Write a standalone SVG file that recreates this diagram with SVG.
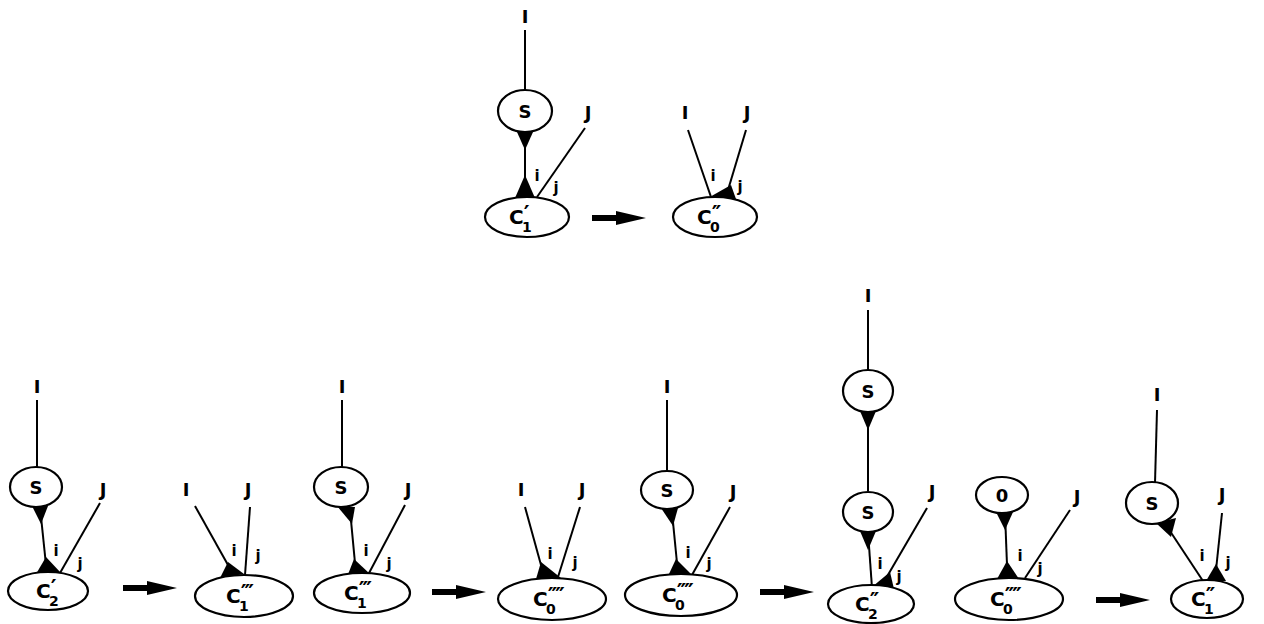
<svg xmlns="http://www.w3.org/2000/svg" width="1264" height="624" viewBox="0 0 1264 624">
<style>
.e{fill:#fff;stroke:#000;stroke-width:2.2}
.l{stroke:#000;stroke-width:2;fill:none}
.t{fill:#000;stroke:none}
.lab{font-family:"DejaVu Sans","Liberation Sans",sans-serif;font-weight:bold;fill:#000}
.big{font-size:18px;text-anchor:middle}
.s{font-size:18px;text-anchor:middle}
.c{font-size:20px}
.p{font-size:22px;letter-spacing:-2px}
.sub{font-size:14px;letter-spacing:0}
.sm{font-size:15px;text-anchor:middle}
</style>
<defs>
<path id="arr" d="M0,-3 H24 V-7 L54,0 L24,7 V3 H0 Z" fill="#000"/>
</defs>
<rect width="1264" height="624" fill="#fff"/>

<g id="connectors">
<line class="l" x1="525" y1="30" x2="525" y2="90"/>
<line class="l" x1="525" y1="132" x2="525" y2="197"/>
<line class="l" x1="585" y1="128" x2="537" y2="197"/>
<polygon class="t" points="517,132 533,132 525,150"/>
<polygon class="t" points="515,198 535,198 525,175"/>
<line class="l" x1="688" y1="130" x2="711" y2="197"/>
<line class="l" x1="746" y1="130" x2="728" y2="190"/>
<polygon class="t" points="708,198 731,185 736,199"/>
<line class="l" x1="37" y1="400" x2="37" y2="467"/>
<line class="l" x1="40" y1="507" x2="46" y2="565"/>
<line class="l" x1="100" y1="503" x2="60" y2="573"/>
<polygon class="t" points="32,506 48,506 41,524"/>
<polygon class="t" points="36,574 46,557 61,573"/>
<line class="l" x1="195" y1="506" x2="228" y2="565"/>
<line class="l" x1="250" y1="507" x2="245" y2="575"/>
<polygon class="t" points="220,578 228,562 244,574"/>
<line class="l" x1="342" y1="400" x2="342" y2="468"/>
<line class="l" x1="350" y1="510" x2="355" y2="563"/>
<line class="l" x1="405" y1="505" x2="368" y2="575"/>
<polygon class="t" points="337,506 355,507 352,524"/>
<polygon class="t" points="347,577 354,559 370,574"/>
<line class="l" x1="525" y1="507" x2="541" y2="565"/>
<line class="l" x1="580" y1="507" x2="558" y2="577"/>
<polygon class="t" points="536,579 541,562 561,578"/>
<line class="l" x1="667" y1="400" x2="667" y2="471"/>
<line class="l" x1="672" y1="512" x2="677" y2="563"/>
<line class="l" x1="730" y1="507" x2="692" y2="575"/>
<polygon class="t" points="661,508 678,508 673,526"/>
<polygon class="t" points="668,576 676,559 691,574"/>
<line class="l" x1="868" y1="310" x2="868" y2="370"/>
<line class="l" x1="868" y1="412" x2="868" y2="491"/>
<line class="l" x1="868" y1="532" x2="872" y2="588"/>
<line class="l" x1="927" y1="508" x2="885" y2="580"/>
<polygon class="t" points="860,411 876,411 868,430"/>
<polygon class="t" points="860,531 876,531 868,550"/>
<polygon class="t" points="872,587 890,572 894,589"/>
<line class="l" x1="1005" y1="513" x2="1007" y2="565"/>
<line class="l" x1="1070" y1="510" x2="1025" y2="578"/>
<polygon class="t" points="996,512 1013,512 1005,530"/>
<polygon class="t" points="997,579 1007,561 1019,579"/>
<line class="l" x1="1157" y1="410" x2="1155" y2="483"/>
<line class="l" x1="1166" y1="525" x2="1203" y2="581"/>
<line class="l" x1="1222" y1="513" x2="1216" y2="570"/>
<polygon class="t" points="1156,523 1176,518 1171,537"/>
<polygon class="t" points="1206,581 1216,564 1226,581"/>
<use href="#arr" x="592" y="218"/>
<use href="#arr" x="123" y="588"/>
<use href="#arr" x="432" y="592"/>
<use href="#arr" x="760" y="592"/>
<use href="#arr" x="1096" y="600"/>
</g>

<g id="topA">
<text class="lab big" x="525" y="23">I</text>
<ellipse class="e" cx="525" cy="111" rx="27" ry="21"/>
<text class="lab s" x="525" y="118">S</text>
<text class="lab sm" x="537" y="181">i</text>
<text class="lab sm" x="556" y="193">j</text>
<text class="lab big" x="588" y="119">J</text>
<ellipse class="e" cx="527" cy="217" rx="42" ry="20"/>
<text class="lab c" x="509" y="224">C<tspan class="p" dy="-3">′</tspan><tspan class="sub" x="522" dy="11">1</tspan></text>
</g>

<g id="topB">
<text class="lab big" x="685" y="119">I</text>
<text class="lab big" x="747" y="119">J</text>
<text class="lab sm" x="713" y="181">i</text>
<text class="lab sm" x="740" y="192">j</text>
<ellipse class="e" cx="715" cy="217" rx="42" ry="20"/>
<text class="lab c" x="697" y="224">C<tspan class="p" dy="-3">′′</tspan><tspan class="sub" x="710" dy="11">0</tspan></text>
</g>

<g id="p1">
<text class="lab big" x="37" y="393">I</text>
<ellipse class="e" cx="36" cy="487" rx="26" ry="20"/>
<text class="lab s" x="36" y="494">S</text>
<text class="lab sm" x="56" y="556">i</text>
<text class="lab sm" x="80" y="569">j</text>
<text class="lab big" x="103" y="496">J</text>
<ellipse class="e" cx="48" cy="591" rx="40" ry="19"/>
<text class="lab c" x="36" y="598">C<tspan class="p" dy="-3">′</tspan><tspan class="sub" x="49" dy="11">2</tspan></text>
</g>

<g id="p2">
<text class="lab big" x="186" y="496">I</text>
<text class="lab big" x="248" y="496">J</text>
<text class="lab sm" x="234" y="556">i</text>
<text class="lab sm" x="258" y="561">j</text>
<ellipse class="e" cx="244" cy="596" rx="49" ry="21"/>
<text class="lab c" x="226" y="603">C<tspan class="p" dy="-3">′′′</tspan><tspan class="sub" x="239" dy="11">1</tspan></text>
</g>

<g id="p3">
<text class="lab big" x="342" y="393">I</text>
<ellipse class="e" cx="341" cy="487" rx="27" ry="20"/>
<text class="lab s" x="341" y="494">S</text>
<text class="lab sm" x="366" y="556">i</text>
<text class="lab sm" x="389" y="569">j</text>
<text class="lab big" x="408" y="496">J</text>
<ellipse class="e" cx="362" cy="593" rx="48" ry="20"/>
<text class="lab c" x="344" y="600">C<tspan class="p" dy="-3">′′′</tspan><tspan class="sub" x="357" dy="11">1</tspan></text>
</g>

<g id="p4">
<text class="lab big" x="521" y="496">I</text>
<text class="lab big" x="582" y="496">J</text>
<text class="lab sm" x="550" y="559">i</text>
<text class="lab sm" x="575" y="568">j</text>
<ellipse class="e" cx="552" cy="599" rx="54" ry="21"/>
<text class="lab c" x="533" y="606">C<tspan class="p" dy="-3">′′′′</tspan><tspan class="sub" x="546" dy="11">0</tspan></text>
</g>

<g id="p5">
<text class="lab big" x="667" y="393">I</text>
<ellipse class="e" cx="667" cy="490" rx="26" ry="19"/>
<text class="lab s" x="667" y="497">S</text>
<text class="lab sm" x="688" y="558">i</text>
<text class="lab sm" x="709" y="569">j</text>
<text class="lab big" x="733" y="498">J</text>
<ellipse class="e" cx="681" cy="595" rx="56" ry="21"/>
<text class="lab c" x="662" y="602">C<tspan class="p" dy="-3">′′′′</tspan><tspan class="sub" x="675" dy="11">0</tspan></text>
</g>

<g id="p6">
<text class="lab big" x="868" y="302">I</text>
<ellipse class="e" cx="868" cy="391" rx="25" ry="21"/>
<text class="lab s" x="868" y="398">S</text>
<ellipse class="e" cx="868" cy="512" rx="25" ry="20"/>
<text class="lab s" x="868" y="519">S</text>
<text class="lab sm" x="880" y="569">i</text>
<text class="lab sm" x="899" y="582">j</text>
<text class="lab big" x="932" y="498">J</text>
<ellipse class="e" cx="871" cy="604" rx="43" ry="19"/>
<text class="lab c" x="855" y="611">C<tspan class="p" dy="-3">′′</tspan><tspan class="sub" x="868" dy="11">2</tspan></text>
</g>

<g id="p7">
<ellipse class="e" cx="1002" cy="495" rx="26" ry="18"/>
<text class="lab s" x="1002" y="502">0</text>
<text class="lab sm" x="1020" y="561">i</text>
<text class="lab sm" x="1040" y="574">j</text>
<text class="lab big" x="1077" y="503">J</text>
<ellipse class="e" cx="1009" cy="599" rx="54" ry="21"/>
<text class="lab c" x="990" y="606">C<tspan class="p" dy="-3">′′′′</tspan><tspan class="sub" x="1003" dy="11">0</tspan></text>
</g>

<g id="p8">
<text class="lab big" x="1157" y="401">I</text>
<ellipse class="e" cx="1152" cy="503" rx="26" ry="21"/>
<text class="lab s" x="1152" y="510">S</text>
<text class="lab sm" x="1202" y="561">i</text>
<text class="lab sm" x="1228" y="568">j</text>
<text class="lab big" x="1222" y="501">J</text>
<ellipse class="e" cx="1207" cy="599" rx="36" ry="19"/>
<text class="lab c" x="1191" y="606">C<tspan class="p" dy="-3">′′</tspan><tspan class="sub" x="1204" dy="11">1</tspan></text>
</g>
</svg>
